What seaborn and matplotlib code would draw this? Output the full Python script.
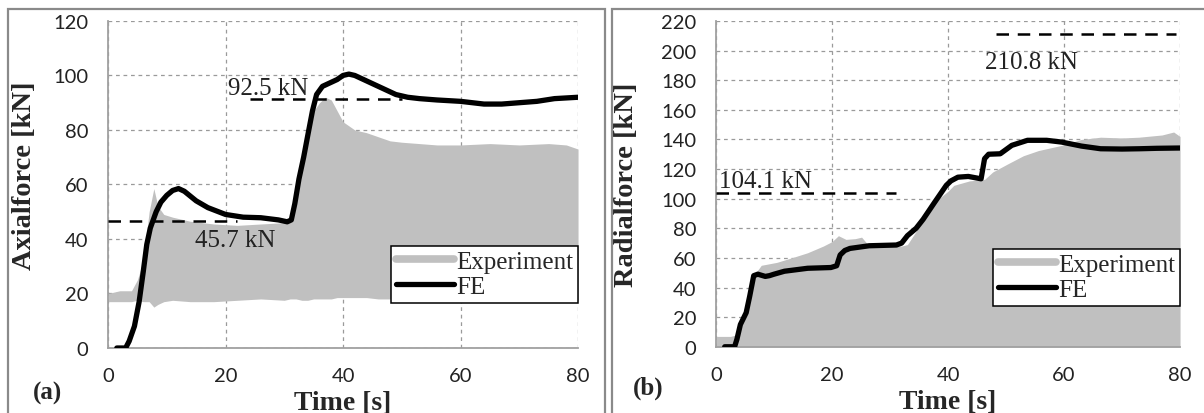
import seaborn as sns
import matplotlib.pyplot as plt
from matplotlib.lines import Line2D
from matplotlib.patches import Rectangle
import pandas as pd

# (a) axial force - experiment envelope (dense oscillating signal)
exp_a_t = [0, 2, 4, 5, 6, 7, 7.8, 8.5, 9.5, 11, 14, 18, 22, 26, 30, 31, 32, 33, 34, 35,
           36, 37, 38, 39, 40, 42, 44, 46, 48, 50, 53, 56, 60, 65, 70, 75, 78, 80]
exp_a_hi = [20, 21, 21, 25, 32, 50, 58.5, 52, 49, 48, 46.5, 45.5, 45, 45.5, 46, 47, 58, 70, 80, 87,
            90, 92, 91, 87, 83, 80, 79, 77.5, 76, 75.5, 75, 74.5, 74.5, 75, 74.5, 75, 74.5, 73]
exp_a_lo = [17, 17, 17, 17.5, 17, 17, 15, 16, 17, 17.5, 17, 17, 17.5, 18, 17.5, 18, 18, 17.5, 17.5, 18,
            18, 18, 18, 18.5, 18.5, 18.5, 18.5, 18, 18, 17.5, 17.5, 17.5, 17.5, 17.5, 17.5, 17.5, 17.5, 17.5]

# (a) FE
fe_a_t = [1.5, 3, 3.6, 4.5, 5.3, 6, 6.6, 7.2, 8.2, 9, 10, 11, 12, 13, 15, 17, 20, 23, 26, 29,
          30.5, 31.2, 31.8, 32.5, 33.3, 34, 34.8, 35.5, 36.5, 38, 39, 40, 41, 42, 43.5, 45, 47, 49,
          51, 53, 56, 60, 64, 67, 70, 73, 76, 80]
fe_a_v = [0, 0, 2.5, 8, 17, 28, 38, 44, 50, 53.5, 56, 57.8, 58.5, 57.5, 54, 51.5, 49, 48, 47.8, 47,
          46.3, 47, 53, 62, 70, 78, 87, 93, 96, 97.5, 98.5, 100, 100.5, 100, 98.5, 97, 95, 93,
          92, 91.5, 91, 90.5, 89.5, 89.5, 90, 90.5, 91.5, 92]

# (b) radial force - experiment
exp_b_t = [0, 2.5, 3.5, 4.5, 5.5, 6.5, 7.8, 10.5, 13, 15.8, 18.5, 20, 21.1, 22.4, 24, 25.1, 26.4, 28,
           30.4, 32, 33, 34.5, 35.7, 37, 38.4, 40, 41, 43.7, 46.3, 47.7, 50.3, 53, 55.6, 59.6, 63,
           66.3, 70, 72.9, 76.9, 78.9, 80]
exp_b_hi = [7, 7, 8, 20, 35, 48, 55, 57, 60, 63.5, 68, 71, 75, 72.5, 73, 74, 68, 68,
            68, 68, 69, 78, 86, 93, 100, 105, 109, 112, 113, 118, 123.5, 129, 132.5, 136, 140,
            141.5, 141, 141.5, 143, 145, 142]

# (b) FE
fe_b_t = [1.5, 3.2, 3.6, 4.2, 5.2, 5.8, 6.5, 7.2, 8.5, 9.2, 10, 11.8, 15.8, 19.8, 20.8, 21.4, 22.2,
          23.1, 26.4, 31.1, 32, 33, 34.5, 35.7, 37.7, 39.7, 40.5, 41.7, 43.5, 45.7, 46.3, 47, 49,
          51, 53.7, 57, 59.6, 63, 66.3, 70, 73, 76, 80]
fe_b_v = [0, 0, 5, 15, 23, 34, 48, 49, 47.5, 48, 49, 51, 53, 53.5, 54.7, 62, 65,
          66.4, 68.2, 68.7, 70, 75, 80, 86, 97.6, 109, 112, 114.5, 115, 113.4, 127, 130, 130.3,
          136, 139.4, 139.4, 138.2, 135.5, 133.7, 133.5, 133.7, 134, 134.2]

# reference levels: (label, value, t_start, t_end)
ref_a = [("45.7 kN", 46.5, 0, 22), ("92.5 kN", 91.3, 24.2, 50)]
ref_b = [("104.1 kN", 103.7, 0, 31), ("210.8 kN", 211, 48.3, 79.3)]
ref_a_text = [(21.7, 39.5), (27.3, 95.5)]
ref_b_text = [(8.6, 112), (54.3, 192.5)]

GRAY = "#c0c0c0"
SERIF = "Liberation Serif"


def draw_panel(ax, exp_t, exp_hi, exp_lo, fe_t, fe_v, refs, ref_text, ymax, ylabel, leg_y):
    ax.fill_between(exp_t, exp_lo, exp_hi, color=GRAY, lw=0, zorder=2)
    fe = pd.DataFrame({"t": fe_t, "F": fe_v})
    sns.lineplot(data=fe, x="t", y="F", ax=ax, color="black", lw=3.8, zorder=4)
    for (txt, v, t0, t1), (tx, ty) in zip(refs, ref_text):
        ax.plot([t0, t1], [v, v], color="black", lw=1.8, dashes=(5, 3.5), zorder=3)
        ax.text(tx, ty, txt, ha="center", va="center", family=SERIF, fontsize=18,
                color="#222222", zorder=5)

    ax.set_xlim(0, 80)
    ax.set_ylim(0, ymax)
    ax.set_xticks(range(0, 81, 20))
    ax.set_yticks(range(0, ymax + 1, 20))
    ax.grid(True, color="#9a9a9a", lw=0.9, ls=(0, (3, 3)), zorder=1)
    ax.set_axisbelow(True)
    for s in ["top", "right"]:
        ax.spines[s].set_visible(False)
    for s in ["left", "bottom"]:
        ax.spines[s].set_color("#a0a0a0")
        ax.spines[s].set_linewidth(1.3)
    ax.tick_params(direction="out", length=6, width=1, color="#a0a0a0",
                   labelsize=14.5, pad=8, labelcolor="#222222")
    for lab in ax.get_xticklabels() + ax.get_yticklabels():
        lab.set_family("Lato")
    ax.set_xlabel("Time [s]", family=SERIF, fontweight="bold", fontsize=20, labelpad=4)
    ax.set_ylabel(ylabel, family=SERIF, fontweight="bold", fontsize=20.5)

    handles = [Line2D([], [], color=GRAY, lw=5.5), Line2D([], [], color="black", lw=3.8)]
    leg = ax.legend(handles, ["Experiment", "FE"], loc="lower right",
                    bbox_to_anchor=(1.0, leg_y), prop={"family": SERIF, "size": 18},
                    frameon=True, fancybox=False, edgecolor="black", framealpha=1,
                    handlelength=2.3, handletextpad=0.1, borderpad=0.2, labelspacing=0.1,
                    borderaxespad=0)
    leg.get_frame().set_linewidth(1.1)
    leg.set_zorder(6)


def main():
    sns.set_theme(style="white")
    fig = plt.figure(figsize=(12.04, 4.14), dpi=100)
    ax_a = fig.add_axes([0.0897, 0.157, 0.3904, 0.79])
    ax_b = fig.add_axes([0.5947, 0.160, 0.3854, 0.787])

    draw_panel(ax_a, exp_a_t, exp_a_hi, exp_a_lo, fe_a_t, fe_a_v, ref_a, ref_a_text,
               120, "Axialforce [kN]", 0.137)
    draw_panel(ax_b, exp_b_t, exp_b_hi, [0] * len(exp_b_t), fe_b_t, fe_b_v, ref_b, ref_b_text,
               220, "Radialforce [kN]", 0.125)
    ax_a.yaxis.set_label_coords(-0.15, 0.53)
    ax_b.yaxis.set_label_coords(-0.165, 0.5)

    # panel frames
    fig.add_artist(Rectangle((8 / 1204, -0.05), 597 / 1204, 1.026, transform=fig.transFigure,
                             fill=False, ec="#8a8a8a", lw=1.6))
    fig.add_artist(Rectangle((612 / 1204, -0.05), 600 / 1204, 1.026, transform=fig.transFigure,
                             fill=False, ec="#8a8a8a", lw=1.6))

    fig.text(0.027, 0.05, "(a)", family=SERIF, fontweight="bold", fontsize=18, va="center")
    fig.text(0.526, 0.063, "(b)", family=SERIF, fontweight="bold", fontsize=18, va="center")

    fig.savefig("out.png", dpi=100)


if __name__ == "__main__":
    main()
